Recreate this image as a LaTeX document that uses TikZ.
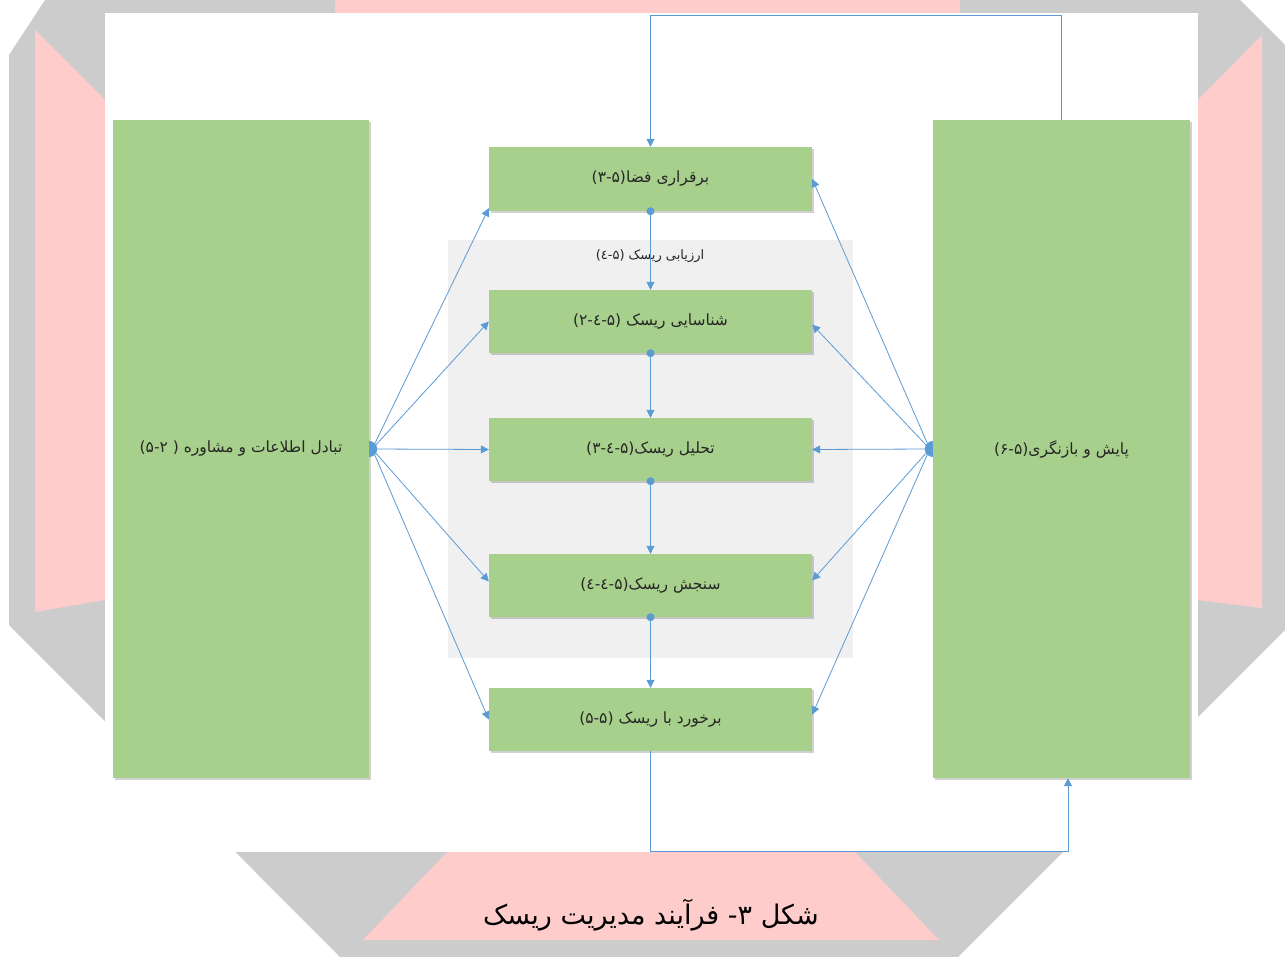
\documentclass[tikz,border=0pt]{standalone}
\usepackage{fontspec}
\newfontfamily\arabicfont[Script=Arabic]{DejaVu Sans}
\usetikzlibrary{arrows.meta,shadows}
\TeXXeTstate=1
\definecolor{boxgreen}{HTML}{A8D08D}
\definecolor{lineblue}{HTML}{5B9BD5}
\definecolor{panelgray}{HTML}{F0F0F0}
\definecolor{wmgray}{HTML}{CCCCCC}
\definecolor{wmpink}{HTML}{FFCCCC}
\definecolor{txt}{HTML}{262626}
\begin{document}
\begin{tikzpicture}[x=1pt,y=-1pt,
  box/.style={fill=boxgreen,inner sep=0pt,text=txt,font=\arabicfont\fontsize{15.5}{18}\selectfont,
    drop shadow={shadow xshift=1.5pt,shadow yshift=-2pt,opacity=0.18,fill=black}},
  conn/.style={draw=lineblue,line width=0.8pt,-{Triangle[length=8pt,width=8pt]}},
  dot/.style={fill=lineblue}]
\useasboundingbox (0,0) rectangle (1285,957);
% watermark background
\fill[white] (0,0) rectangle (1285,957);
\fill[wmgray] (45,0) -- (1240,0) -- (1285,45) -- (1285,630) -- (958,957) -- (340,957) -- (9,625) -- (9,55) -- cycle;
\fill[wmpink] (35,30) -- (105,100) -- (105,600) -- (35,612) -- cycle;
\fill[wmpink] (1262,35) -- (1198,100) -- (1198,600) -- (1262,608) -- cycle;
\fill[wmpink] (335,0) -- (960,0) -- (960,13) -- (335,13) -- cycle;
\fill[wmpink] (447,852) -- (855,852) -- (939,940) -- (363,940) -- cycle;
\fill[white] (105,13) rectangle (1198,852);
% assessment panel
\node[fill=panelgray,minimum width=405pt,minimum height=418pt,inner sep=0pt] (panel) at (650.5,449) {};
\node[font=\arabicfont\fontsize{13}{15}\selectfont,text=txt] (plabel) at (650,256) {\beginR ارزیابی ریسک (۵-٤)\endR};
% boxes
\node[box,minimum width=256pt,minimum height=658pt] (comm) at (241,449) {\beginR تبادل اطلاعات و مشاوره ( ۵-۲)\endR};
\node[box,minimum width=257pt,minimum height=658pt] (mon) at (1061.5,449) {\beginR پایش و بازنگری(۵-۶)\endR};
\node[box,minimum width=323pt,minimum height=64pt] (b1) at (650.5,179) {\beginR برقراری فضا(۵-۳)\endR};
\node[box,minimum width=323pt,minimum height=63pt] (b2) at (650.5,321.5) {\beginR شناسایی ریسک (۵-٤-۲)\endR};
\node[box,minimum width=323pt,minimum height=63pt] (b3) at (650.5,449.5) {\beginR تحلیل ریسک(۵-٤-۳)\endR};
\node[box,minimum width=323pt,minimum height=63pt] (b4) at (650.5,585.5) {\beginR سنجش ریسک(۵-٤-٤)\endR};
\node[box,minimum width=323pt,minimum height=63pt] (b5) at (650.5,719.5) {\beginR برخورد با ریسک (۵-۵)\endR};
% half discs
\begin{scope}
\clip (comm.north east) rectangle ([xshift=12pt]comm.south east);
\fill[lineblue] (comm.east) circle (8pt);
\end{scope}
\begin{scope}
\clip (mon.north west) rectangle ([xshift=-12pt]mon.south west);
\fill[lineblue] (mon.west) circle (8pt);
\end{scope}
\coordinate (cL) at ([xshift=3pt]comm.east);
\coordinate (cR) at ([xshift=-3pt]mon.west);
% vertical chain
\foreach \a/\b in {b1/b2,b2/b3,b3/b4,b4/b5}{
  \draw[conn] (\a.south) -- (\b.north);
  \fill[dot] (\a.south) circle (4pt);
}
% fans
\draw[conn] (cL) -- ([yshift=3pt]b1.south west);
\draw[conn] (cL) -- (b2.west);
\draw[conn] (cL) -- (b3.west);
\draw[conn] (cL) -- ([yshift=4pt]b4.west);
\draw[conn] (cL) -- (b5.west);
\draw[conn] (cR) -- (b1.east);
\draw[conn] (cR) -- ([yshift=-3pt]b2.east);
\draw[conn] (cR) -- (b3.east);
\draw[conn] (cR) -- ([yshift=5pt]b4.east);
\draw[conn] (cR) -- ([yshift=5pt]b5.east);
% loops
\coordinate (topY) at (0,15);
\coordinate (botY) at (0,851);
\coordinate (monIn) at ([xshift=6.5pt]mon.south);
\draw[conn] (mon.north) -- (mon.north |- topY) -- (b1.north |- topY) -- (b1.north);
\draw[conn] (b5.south) -- (b5.south |- botY) -- (monIn |- botY) -- (monIn);
% caption
\node[font=\arabicfont\fontsize{27}{31}\selectfont,text=black] (cap) at (651,915) {\beginR شکل ۳- فرآیند مدیریت ریسک\endR};
\end{tikzpicture}
\end{document}
